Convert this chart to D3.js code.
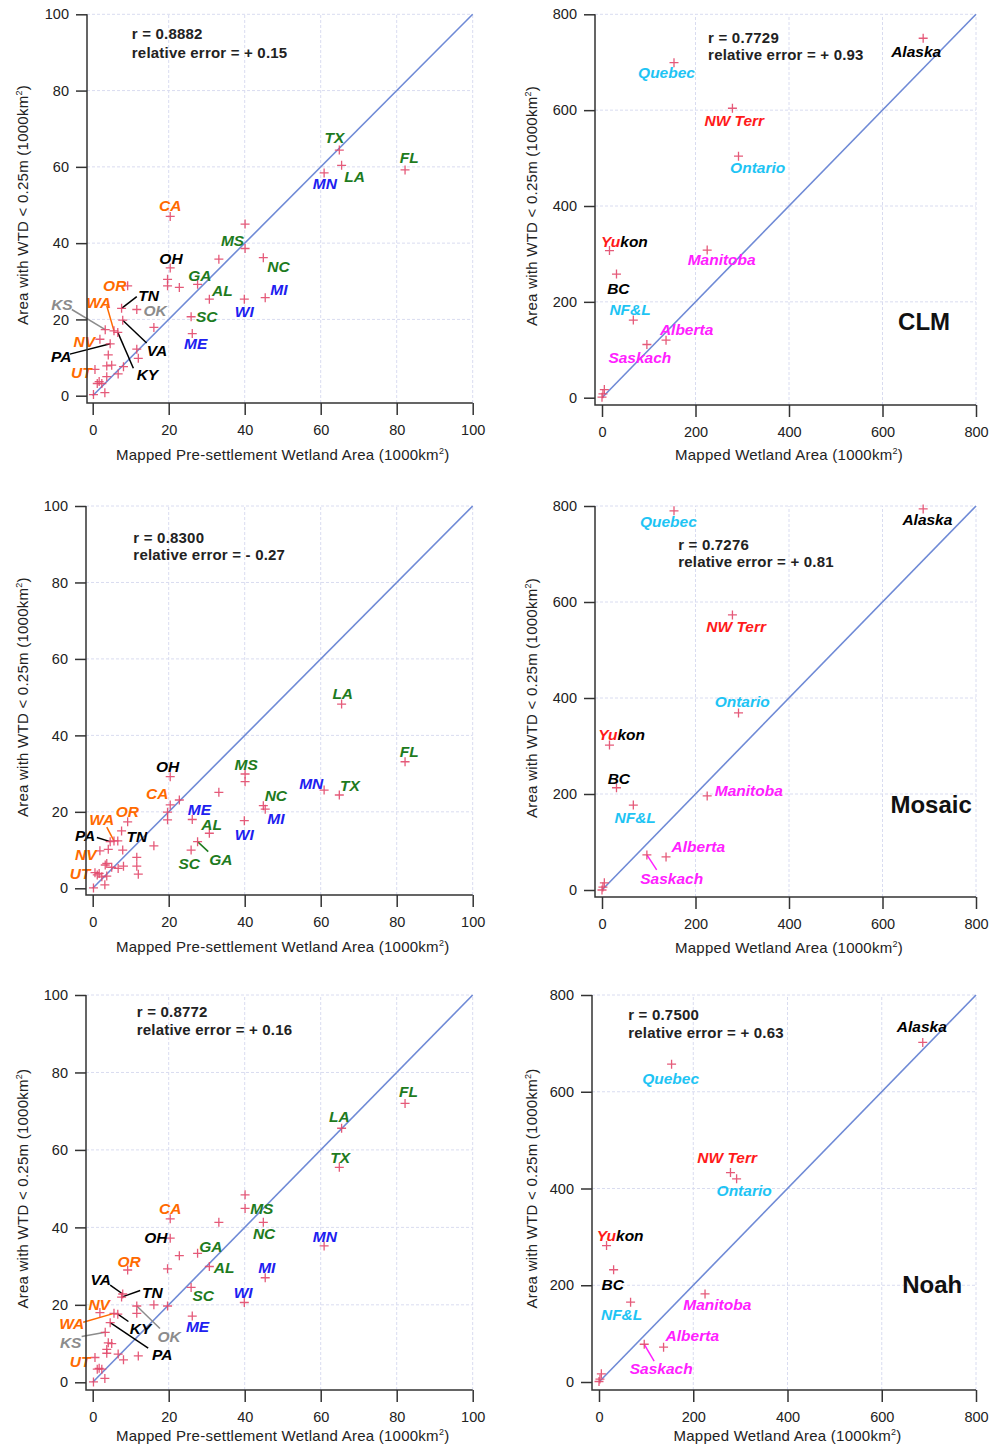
<!DOCTYPE html>
<html>
<head>
<meta charset="utf-8">
<script src="https://cdn.jsdelivr.net/npm/d3@7"></script>
<style>
  body { margin: 0; background: #fff; }
  svg { display: block; }
</style>
</head>
<body>
<svg id="chart" width="1002" height="1447"></svg>
<script>
// ---- data: US states (mapped pre-settlement wetland vs. modelled WTD < 0.25m) ----
const usStates = ["TX","LA","MN","FL","CA","","MS","","NC","OH","","","","GA","OR","AL","WI","MI","SC","ME",
                  "TN","OK","VA","","KS","WA","KY","NV","PA","","","","","UT","","","","","","","","",""];
const usMapped = [64.9,65.5,60.9,82.2,20.4,40.1,40.1,33.2,44.9,20.4,19.7,19.7,22.8,27.6,9.2,30.7,39.9,45.4,25.9,26.2,
                  7.6,11.6,7.9,16.1,3.3,5.6,6.6,1.9,4.6,4.1,11.6,12.0,3.7,0.6,8.1,6.7,1.7,3.7,3.2,0.2,2.4,5.0,1.2];
const usClm    = [64.4,60.4,58.4,59.2,47.0,45.0,38.6,35.8,36.2,33.5,30.5,28.8,28.4,29.2,28.8,25.3,25.3,25.7,20.7,16.3,
                  22.9,22.6,19.8,17.9,17.3,17.0,16.6,14.8,13.6,10.7,12.2,9.8,7.8,6.9,7.6,5.7,3.7,5.0,0.8,0.3,3.2,8.0,3.2];
const usMosaic = [24.4,48.2,25.7,33.1,21.8,29.9,27.9,25.1,21.6,29.2,19.9,17.9,23.1,12.2,17.4,14.4,17.7,20.7,10.0,18.0,
                  15.0,8.1,10.0,11.1,6.1,12.4,12.4,9.8,12.2,10.2,5.8,3.7,6.5,4.1,5.8,5.2,3.9,3.2,0.9,0.1,3.0,5.5,3.5];
const usNoah   = [55.5,65.6,35.2,72.0,42.2,48.4,44.9,41.3,41.3,37.2,29.3,19.7,32.7,33.3,29.0,29.9,20.6,27.0,24.5,17.1,
                  22.0,19.7,22.8,20.0,12.9,17.8,17.6,18.0,15.4,10.2,17.8,6.8,8.5,6.4,5.8,7.3,3.6,7.5,1.0,0.1,3.4,10.0,3.4];

const westStates   = ["CA","OR","WA","NV","UT"];
const eastStates   = ["OH","TN","VA","KY","PA"];
const plainsStates = ["KS","OK"];
const southStates  = ["TX","LA","FL","MS","GA","AL","NC","SC"];
const northStates  = ["MN","MI","WI","ME"];

// ---- data: Canadian provinces + Alaska ----
const caRegions = ["Alaska","Quebec","NW Terr","Ontario","Manitoba","Yukon","BC","NF&L","Alberta","Saskach","","",""];
const caMapped  = [687,154,279,292,225,16,31,67,137,96,5,2,0];
const caClm     = [750,699,604,504,308,307,258,162,120,111,17,8,1];
const caMosaic  = [794,790,573,369,196,302,213,177,69,73,15,6,0];
const caNoah    = [702,657,433,420,182,282,232,165,72,78,17,6,1];

const cyanRegions    = ["Quebec","Ontario","NF&L"];
const magentaRegions = ["Manitoba","Alberta","Saskach"];
const redRegions     = ["NW Terr"];

const ticksUS = [0, 20, 40, 60, 80, 100];
const ticksCA = [0, 200, 400, 600, 800];

// ---- label placement (data units): [labelX, labelY, leaderStartX, leaderStartY] ----
const usLabelsClm = {
  TX:[63.6,67.8], FL:[83.3,62.4], LA:[68.9,57.5], MN:[61.1,55.6], CA:[20.4,49.9],
  MS:[36.8,40.8], OH:[20.6,36.1], NC:[48.9,33.8], GA:[28.2,31.6], OR:[5.8,29.0],
  AL:[34.1,27.5], MI:[49.0,27.8], TN:[14.7,26.2,11.6,26.0], KS:[-8.1,23.8,-5.5,22.6],
  WA:[1.6,24.5,3.7,23.6], OK:[16.4,22.3], WI:[39.9,22.0], SC:[30.0,20.7], ME:[27.1,13.7],
  NV:[-2.2,14.2], VA:[16.9,11.9,14.2,13.8], PA:[-8.3,10.4,-6.0,10.9], KY:[14.4,5.6,10.7,7.2], UT:[-3.0,6.0]
};
const usLabelsMosaic = {
  LA:[65.8,51.0], FL:[83.3,35.7], OH:[19.7,31.8], MS:[40.4,32.3], MN:[57.5,27.3], TX:[67.7,27.0],
  CA:[17.0,24.7], NC:[48.2,24.2], ME:[28.1,20.7], OR:[9.1,20.1], WA:[2.4,17.9,3.7,16.0],
  MI:[48.2,18.3], AL:[31.3,16.6], PA:[-2.0,13.8,1.1,13.3], TN:[11.6,13.5], WI:[39.9,14.2],
  NV:[-1.8,8.9], GA:[33.7,7.6,30.4,9.6], SC:[25.4,6.4], UT:[-3.3,3.9]
};
const usLabelsNoah = {
  FL:[83.1,75.2], LA:[64.9,68.6], TX:[65.1,58.1], CA:[20.4,44.8], MS:[44.5,44.8], NC:[45.1,38.5],
  MN:[61.1,37.6], OH:[16.6,37.3], GA:[31.1,35.0], OR:[9.6,31.2], AL:[34.6,29.7], MI:[45.8,29.7],
  VA:[2.1,26.6,4.6,25.1], TN:[15.7,23.2,12.5,23.7], WI:[39.6,23.2], SC:[29.1,22.5], NV:[1.7,20.1],
  WA:[-5.5,15.2,-2.5,15.5], ME:[27.6,14.4], KY:[12.6,13.9,9.4,15.7], OK:[20.1,11.8,17.7,13.9],
  KS:[-5.8,10.3,-2.9,11.8], PA:[18.3,7.2,14.6,8.8], UT:[-3.3,5.3]
};
const caLabelsClm = {
  Alaska:[672,722], Quebec:[138,679], "NW Terr":[283,578], Ontario:[333,480], Yukon:[48,328],
  Manitoba:[256,289], BC:[35,228], "NF&L":[60,184], Alberta:[181,143], Saskach:[81,83]
};
const caLabelsMosaic = {
  Quebec:[142,767], Alaska:[696,771], "NW Terr":[287,550], Ontario:[300,392], Yukon:[42,324],
  BC:[36,233], Manitoba:[314,207], "NF&L":[71,151], Alberta:[206,90], Saskach:[149,24,117,42]
};
const caLabelsNoah = {
  Alaska:[685,735], Quebec:[152,628], "NW Terr":[272,465], Ontario:[308,395], Yukon:[45,304],
  BC:[29,202], Manitoba:[251,160], "NF&L":[48,140], Alberta:[198,96], Saskach:[132,28,117,43]
};

const FONT = 'Arial, "Liberation Sans", Helvetica, sans-serif';

function usColour(name) {
  if (westStates.includes(name)) return "#ff6a00";
  if (plainsStates.includes(name)) return "#8c8c8c";
  if (southStates.includes(name)) return "#1e7b1e";
  if (northStates.includes(name)) return "#2020f0";
  return "#000";
}
function caColour(name) {
  if (cyanRegions.includes(name)) return "#1ec4f4";
  if (magentaRegions.includes(name)) return "#ff20ff";
  if (redRegions.includes(name)) return "#ff1a1a";
  return "#000";
}

// box: [x(0), x(max), y(0), y(max), leftAxisX, bottomAxisY]
const panels = [
  { names: usStates, xs: usMapped, ys: usClm, max: 100, ticks: ticksUS, colour: usColour, labels: usLabelsClm,
    stats: ["r = 0.8882", "relative error = + 0.15"], statsAt: [10.3, 93.4, 88.6],
    xTitle: "Mapped Pre-settlement Wetland Area", box: [92.7, 472.7, 395.7, 14.3, 87, 403], yTitleX: 23, xTitleDy: 57 },
  { names: caRegions, xs: caMapped, ys: caClm, max: 800, ticks: ticksCA, colour: caColour, labels: caLabelsClm,
    stats: ["r = 0.7729", "relative error = + 0.93"], statsAt: [227, 741, 705], model: "CLM", modelAt: [689, 158],
    xTitle: "Mapped Wetland Area", box: [602, 976, 397.7, 14.3, 595, 405], yTitleX: 532, xTitleDy: 55 },
  { names: usStates, xs: usMapped, ys: usMosaic, max: 100, ticks: ticksUS, colour: usColour, labels: usLabelsMosaic,
    stats: ["r = 0.8300", "relative error = - 0.27"], statsAt: [10.7, 90.3, 86.0],
    xTitle: "Mapped Pre-settlement Wetland Area", box: [92.7, 472.7, 888.3, 506, 86, 895], yTitleX: 23, xTitleDy: 57 },
  { names: caRegions, xs: caMapped, ys: caMosaic, max: 800, ticks: ticksCA, colour: caColour, labels: caLabelsMosaic,
    stats: ["r = 0.7276", "relative error = + 0.81"], statsAt: [163, 708, 672], model: "Mosaic", modelAt: [704, 179],
    xTitle: "Mapped Wetland Area", box: [602, 976, 890, 506, 595, 897], yTitleX: 532, xTitleDy: 56 },
  { names: usStates, xs: usMapped, ys: usNoah, max: 100, ticks: ticksUS, colour: usColour, labels: usLabelsNoah,
    stats: ["r = 0.8772", "relative error = + 0.16"], statsAt: [11.6, 94.3, 89.7],
    xTitle: "Mapped Pre-settlement Wetland Area", box: [92.7, 472.7, 1382.3, 995, 86, 1390], yTitleX: 23, xTitleDy: 51 },
  { names: caRegions, xs: caMapped, ys: caNoah, max: 800, ticks: ticksCA, colour: caColour, labels: caLabelsNoah,
    stats: ["r = 0.7500", "relative error = + 0.63"], statsAt: [62, 749, 712], model: "Noah", modelAt: [707, 202],
    xTitle: "Mapped Wetland Area", box: [599, 976, 1382, 995, 592, 1390], yTitleX: 532, xTitleDy: 51 }
];

const svg = d3.select("#chart").attr("font-family", FONT);

function drawPanel(p) {
  const [bx0, bx1, by0, by1, ax, ay] = p.box;
  const x = d3.scaleLinear().domain([0, p.max]).range([bx0, bx1]);
  const y = d3.scaleLinear().domain([0, p.max]).range([by0, by1]);
  const g = svg.append("g");
  const grid = p.ticks.slice(1);

  // faint dotted grid
  g.append("g").selectAll("line").data(grid).join("line")
    .attr("x1", d => x(d)).attr("x2", d => x(d)).attr("y1", ay).attr("y2", y(p.max))
    .attr("stroke", "#d9dcf0").attr("stroke-dasharray", "3,2");
  g.append("g").selectAll("line").data(grid).join("line")
    .attr("x1", ax).attr("x2", x(p.max)).attr("y1", d => y(d)).attr("y2", d => y(d))
    .attr("stroke", "#d9dcf0").attr("stroke-dasharray", "3,2");

  // 1:1 line
  g.append("line")
    .attr("x1", x(0)).attr("y1", y(0)).attr("x2", x(p.max)).attr("y2", y(p.max))
    .attr("stroke", "#6f8ad6").attr("stroke-width", 1.6);

  const pts = p.names.map((n, i) => ({ name: n, x: p.xs[i], y: p.ys[i] }));
  const byName = new Map(pts.filter(d => d.name).map(d => [d.name, d]));
  const labs = Object.entries(p.labels).map(([name, v]) => ({ name, pos: v, pt: byName.get(name) }));

  // leader lines
  g.append("g").selectAll("line").data(labs.filter(d => d.pos.length > 2)).join("line")
    .attr("x1", d => x(d.pos[2])).attr("y1", d => y(d.pos[3]))
    .attr("x2", d => x(d.pt.x)).attr("y2", d => y(d.pt.y))
    .attr("stroke", d => p.colour(d.name)).attr("stroke-width", 1.5);

  // red cross markers
  g.append("g").selectAll("path").data(pts).join("path")
    .attr("transform", d => `translate(${x(d.x)},${y(d.y)})`)
    .attr("d", "M-4.5,0H4.5M0,-4.5V4.5")
    .attr("stroke", "#e2486a").attr("stroke-width", 1.3).attr("stroke-opacity", 0.9);

  // labels
  const lt = g.append("g").selectAll("text").data(labs).join("text")
    .attr("x", d => x(d.pos[0])).attr("y", d => y(d.pos[1]))
    .attr("text-anchor", "middle").attr("dominant-baseline", "central")
    .attr("font-size", 15.5).attr("font-weight", "bold").attr("font-style", "italic")
    .attr("fill", d => p.colour(d.name));
  lt.each(function (d) {
    const t = d3.select(this);
    if (d.name === "Yukon") {
      t.append("tspan").attr("fill", "#ff1a1a").text("Yu");
      t.append("tspan").attr("fill", "#000").text("kon");
    } else {
      t.text(d.name);
    }
  });

  // statistics
  g.append("g").selectAll("text").data(p.stats).join("text")
    .attr("x", x(p.statsAt[0])).attr("y", (d, i) => y(p.statsAt[i + 1]))
    .attr("font-size", 15).attr("font-weight", "bold").attr("fill", "#222")
    .attr("letter-spacing", 0.2)
    .text(d => d);

  if (p.model) {
    g.append("text")
      .attr("x", x(p.modelAt[0])).attr("y", y(p.modelAt[1]))
      .attr("text-anchor", "middle").attr("dominant-baseline", "central")
      .attr("font-size", 24).attr("font-weight", "bold").attr("fill", "#111")
      .text(p.model);
  }

  // axes (Igor style: offset from the data area)
  const gy = g.append("g").attr("transform", `translate(${ax},0)`)
    .call(d3.axisLeft(y).tickValues(p.ticks).tickSize(11).tickPadding(7));
  const gx = g.append("g").attr("transform", `translate(0,${ay})`)
    .call(d3.axisBottom(x).tickValues(p.ticks).tickSize(12).tickPadding(10));
  [gx, gy].forEach(a => {
    a.select(".domain").remove();
    a.selectAll("line").attr("stroke", "#333").attr("stroke-width", 1.5);
    a.selectAll("text").attr("font-size", 14.5).attr("fill", "#222").attr("font-family", FONT);
  });
  g.append("path")
    .attr("d", `M${ax},${y(p.max)}V${ay}H${x(p.max)}`)
    .attr("fill", "none").attr("stroke", "#333").attr("stroke-width", 1.5);

  // axis titles
  const xt = g.append("text")
    .attr("x", (bx0 + bx1) / 2).attr("y", ay + p.xTitleDy)
    .attr("text-anchor", "middle").attr("font-size", 15).attr("letter-spacing", 0.25).attr("fill", "#222");
  xt.append("tspan").text(p.xTitle + " (1000km");
  xt.append("tspan").attr("font-size", 9).attr("dy", -6).text("2");
  xt.append("tspan").attr("dy", 6).text(")");

  const yt = g.append("text")
    .attr("transform", `translate(${p.yTitleX + 5},${(by0 + by1) / 2}) rotate(-90)`)
    .attr("text-anchor", "middle").attr("font-size", 15).attr("letter-spacing", 0.25).attr("fill", "#222");
  yt.append("tspan").text("Area with WTD < 0.25m (1000km");
  yt.append("tspan").attr("font-size", 9).attr("dy", -6).text("2");
  yt.append("tspan").attr("dy", 6).text(")");
}

panels.forEach(drawPanel);
</script>
</body>
</html>
